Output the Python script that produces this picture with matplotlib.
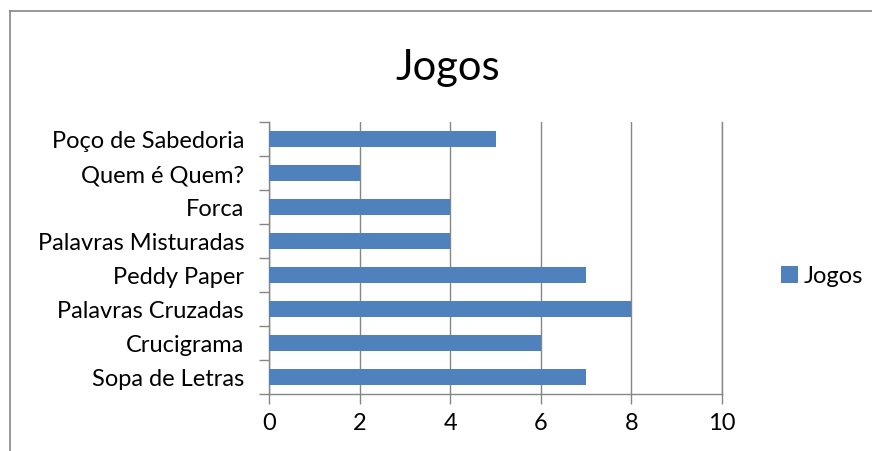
import numpy as np
from matplotlib import pyplot as plt
from matplotlib.lines import Line2D

categories = ['Sopa de Letras', 'Crucigrama', 'Palavras Cruzadas', 'Peddy Paper',
              'Palavras Misturadas', 'Forca', 'Quem é Quem?', 'Poço de Sabedoria']
values = [7, 6, 8, 7, 4, 4, 2, 5]
xticks = [0, 2, 4, 6, 8, 10]

plt.rcParams['font.family'] = ['Lato', 'DejaVu Sans']

W, H = 872, 452
fig = plt.figure(figsize=(W / 100, H / 100), dpi=100)
ax = fig.add_axes([269 / W, 1 - 395 / H, (722 - 269) / W, (395 - 123) / H])

y = np.arange(len(categories))
ax.barh(y, values, height=0.46, color='#4F81BD', zorder=3, label='Jogos')

ax.set_xlim(0, 10)
ax.set_ylim(-0.5, len(categories) - 0.5)
ax.set_xticks(xticks)
ax.set_xticklabels([str(t) for t in xticks], fontsize=17)
ax.set_yticks(y)
ax.set_yticklabels(categories, fontsize=17)
ax.set_yticks(np.arange(-0.5, len(categories), 1), minor=True)
ax.tick_params(axis='y', which='major', length=0, pad=18)
ax.tick_params(axis='y', which='minor', length=7, color='#868686', width=1)
ax.tick_params(axis='x', length=7, color='#868686', width=1, pad=6)
ax.grid(axis='x', color='#868686', linewidth=1, zorder=0)
ax.axvline(10, color='#868686', linewidth=1, zorder=0, clip_on=False)

for s in ['top', 'right']:
    ax.spines[s].set_visible(False)
for s in ['left', 'bottom']:
    ax.spines[s].set_color('#868686')
    ax.spines[s].set_linewidth(1)

fig.text(448 / W, 1 - 68 / H, 'Jogos', fontsize=30, ha='center', va='center')

fig.legend(loc='center left', bbox_to_anchor=(760 / W, 1 - 277 / H), frameon=False,
           fontsize=17, handlelength=0.7, handleheight=0.7, handletextpad=0.25)

# outer chart frame
fig.add_artist(Line2D([10 / W, 10 / W], [0, 1 - 12 / H], color='#868686', linewidth=1.2))
fig.add_artist(Line2D([10 / W, 1], [1 - 12 / H, 1 - 12 / H], color='#868686', linewidth=1.2))

plt.savefig('out.png', dpi=100)
